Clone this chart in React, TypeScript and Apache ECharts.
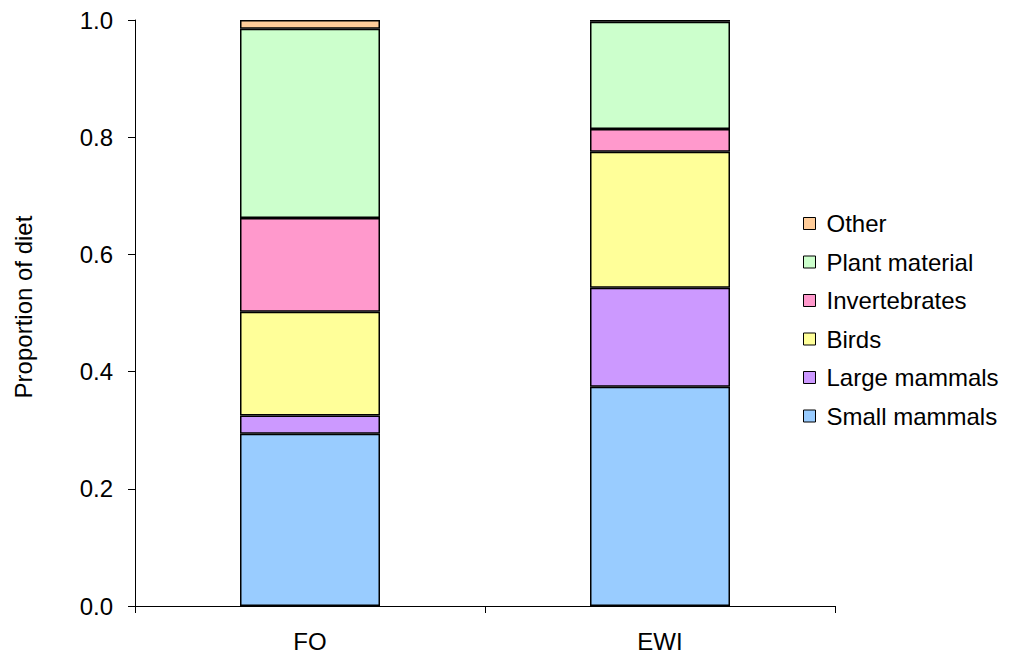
import React, { useEffect, useRef } from "react";
import * as echarts from "echarts";

const categories = ["FO", "EWI"];
const smallMammals = [0.294, 0.374];
const largeMammals = [0.031, 0.169];
const birds = [0.177, 0.232];
const invertebrates = [0.160, 0.039];
const plantMaterial = [0.323, 0.183];
const other = [0.015, 0.003];
const legendOrder = ["Other", "Plant material", "Invertebrates", "Birds", "Large mammals", "Small mammals"];

const FONT = "'Liberation Sans', Arial, sans-serif";

export default function App() {
  const ref = useRef<HTMLDivElement>(null);
  useEffect(() => {
    if (!ref.current) return;
    const chart = echarts.init(ref.current, undefined, { renderer: "svg" });
    const mk = (name: string, data: number[], color: string) => ({
      name,
      type: "bar",
      stack: "diet",
      data,
      barWidth: "40%",
      itemStyle: { color, borderColor: "#000", borderWidth: 1.5 },
    });
    chart.setOption({
      animation: false,
      backgroundColor: "#fff",
      textStyle: { fontFamily: FONT },
      grid: { left: 135, right: 180, top: 20, bottom: 54 },
      legend: {
        orient: "vertical",
        left: 798,
        top: 206,
        itemWidth: 12,
        itemHeight: 12,
        itemGap: 13.5,
        icon: "rect",
        textStyle: { fontSize: 24, lineHeight: 25, color: "#000", fontFamily: FONT, padding: [0, 0, 0, 6] },
        itemStyle: { borderColor: "#000", borderWidth: 1 },
        data: legendOrder,
      },
      graphic: [
        {
          type: "text",
          x: 23,
          y: 307,
          rotation: Math.PI / 2,
          style: {
            text: "Proportion of diet",
            fontSize: 24,
            fontFamily: FONT,
            fill: "#000",
            align: "center",
            verticalAlign: "middle",
          },
        },
      ],
      xAxis: {
        type: "category",
        data: categories,
        axisLine: { lineStyle: { color: "#000", width: 1 } },
        axisTick: { show: true, length: 7, lineStyle: { color: "#000" } },
        axisLabel: { fontSize: 24, color: "#000", margin: 23, fontFamily: FONT },
      },
      yAxis: {
        type: "value",
        min: 0,
        max: 1,
        interval: 0.2,
        splitLine: { show: false },
        axisLine: { show: true, lineStyle: { color: "#000", width: 1 } },
        axisTick: { show: true, length: 7, lineStyle: { color: "#000" } },
        axisLabel: {
          fontSize: 24,
          color: "#000",
          margin: 22,
          fontFamily: FONT,
          formatter: (v: number) => v.toFixed(1),
        },
      },
      series: [
        mk("Small mammals", smallMammals, "#99CCFF"),
        mk("Large mammals", largeMammals, "#CC99FF"),
        mk("Birds", birds, "#FFFF99"),
        mk("Invertebrates", invertebrates, "#FF99CC"),
        mk("Plant material", plantMaterial, "#CCFFCC"),
        mk("Other", other, "#FFCC99"),
      ],
    });
    return () => chart.dispose();
  }, []);
  return <div ref={ref} style={{ width: 1015, height: 660, position: "absolute", left: 0, top: 0 }} />;
}
